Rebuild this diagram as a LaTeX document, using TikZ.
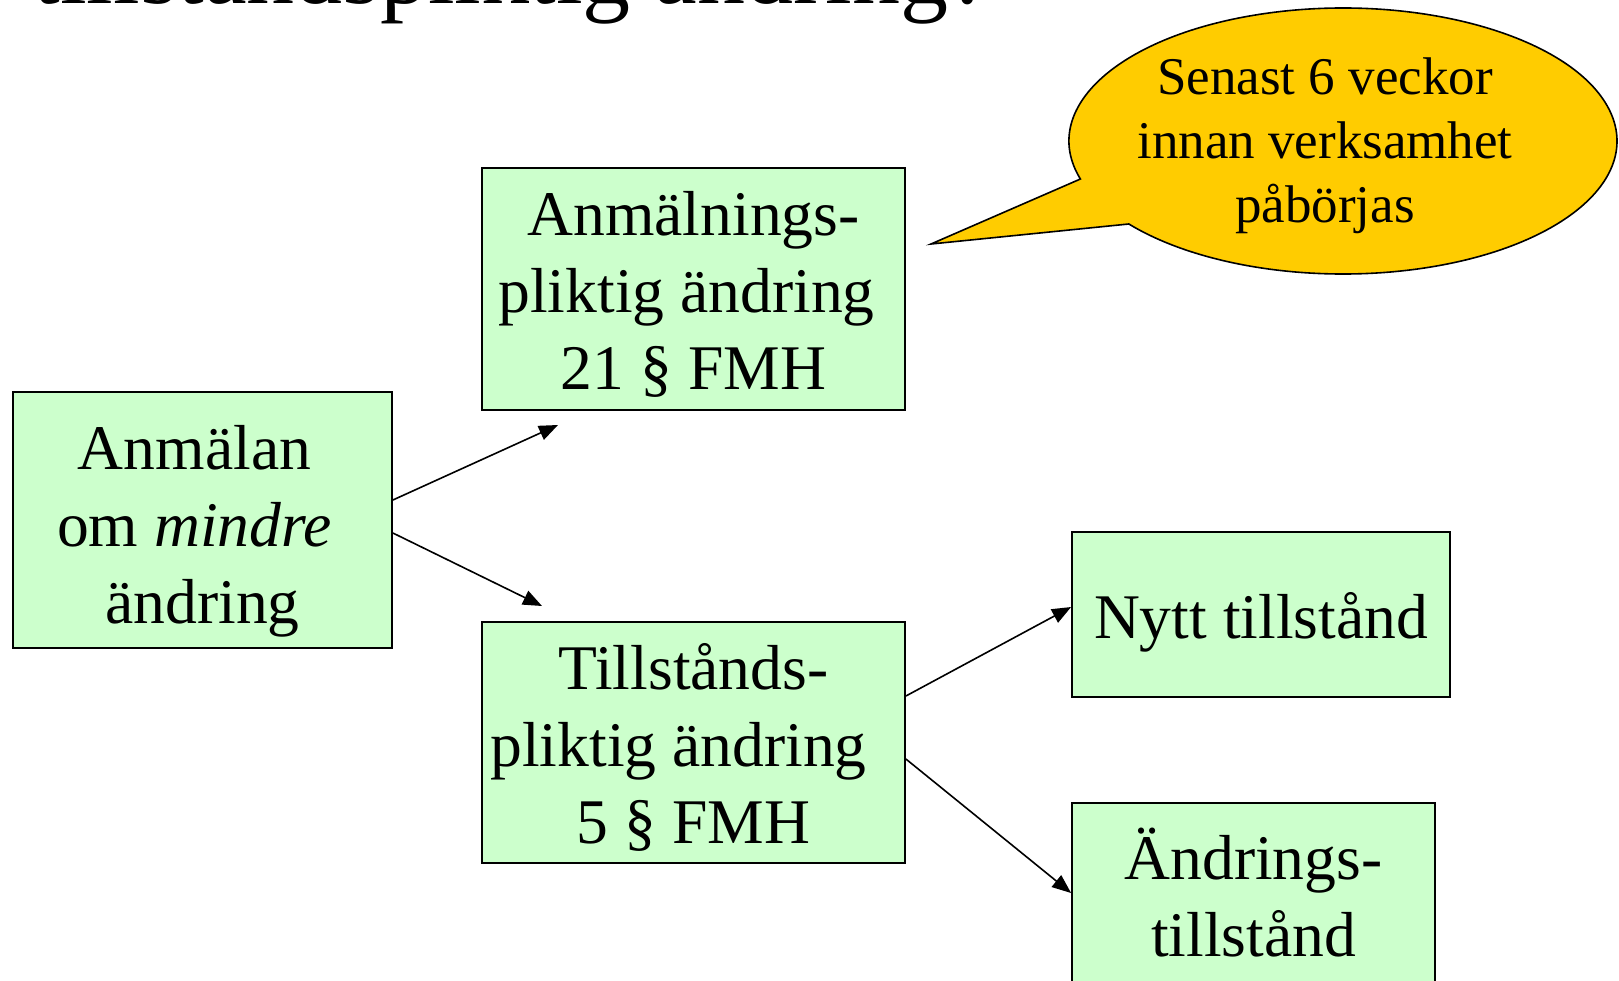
\documentclass[tikz,border=0pt]{standalone}
\usepackage{fontspec}
\setmainfont{Liberation Serif}
\usetikzlibrary{arrows.meta,calc}
\definecolor{boxgreen}{HTML}{CCFFCC}
\definecolor{calloutyellow}{HTML}{FFCC00}
\newcommand{\trail}[1]{\rule{#1}{0pt}}
\begin{document}
\begin{tikzpicture}[x=0.5pt,y=-0.5pt,
  box/.style={draw=black, line width=0.9pt, fill=boxgreen, inner sep=0pt},
  boxtext/.style={align=center, inner sep=0pt, font=\fontsize{31.8}{38.5}\selectfont},
  conn/.style={line width=0.8pt, -{Triangle[length=9.5pt,width=7.5pt]}},
  callout/.style={draw=black, line width=0.8pt, fill=calloutyellow},
  callouttext/.style={align=center, inner sep=0pt, font=\fontsize{26.5}{32}\selectfont},
  titletext/.style={inner sep=0pt, font=\fontsize{48}{56}\selectfont}]
\clip (0,0) rectangle (1619,981);
\fill[white] (0,0) rectangle (1619,981);

% title (cut off at top)
\node[titletext, anchor=base west] (title) at (33,3) {tillståndspliktig ändring?};

% boxes
\node[box, minimum width=189.5pt, minimum height=128pt] (A) at (202.5,520) {};
\node[box, minimum width=211.5pt, minimum height=121pt] (B) at (693.5,289) {};
\node[box, minimum width=211.5pt, minimum height=120.5pt] (C) at (693.5,742.5) {};
\node[box, minimum width=189pt, minimum height=82.5pt] (D) at (1261,614.5) {};
\node[box, minimum width=181.5pt, minimum height=93.5pt] (E) at (1253.5,896.5) {};

% box texts
\node[boxtext] (At) at (202.5,531.5) {Anmälan\trail{8pt}\\om \textit{mindre}\trail{8pt}\\ändring};
\node[boxtext] (Bt) at (693.5,294.2) {Anmälnings-\\pliktig ändring\trail{7pt}\\21 § FMH};
\node[boxtext] (Ct) at (693.5,747.7) {Tillstånds-\\pliktig ändring\trail{15pt}\\5 § FMH};
\node[boxtext] (Dt) at (1261,622.8) {Nytt tillstånd};
\node[boxtext] (Et) at (1253.5,892.4) {Ändrings-\\tillstånd};

% callout
\draw[callout] (931,244) -- (1080.4,179.0)
  arc[start angle=196.6, end angle=-141.4, x radius=137pt, y radius=66.5pt] -- cycle;
\node[callouttext] (note) at (1325,146) {Senast 6 veckor\\innan verksamhet\\påbörjas};

% connectors
\coordinate (tAB) at (558,425);
\coordinate (tAC) at (542,606);
\draw[conn] ([yshift=10pt]A.east) -- (tAB);
\draw[conn] ([yshift=-6.5pt]A.east) -- (tAC);
\draw[conn] ([yshift=23.25pt]C.east) -- ([yshift=3.75pt]D.west);
\draw[conn] ([yshift=-8.25pt]C.east) -- ([yshift=1.75pt]E.west);
\end{tikzpicture}
\end{document}
